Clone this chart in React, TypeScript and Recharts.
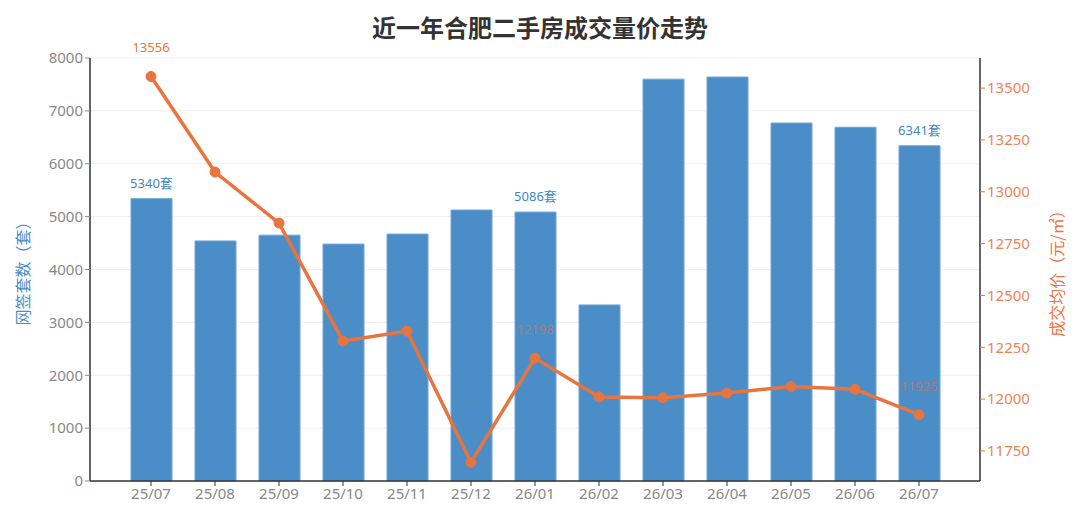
import React from 'react';
import { ComposedChart, Bar, Line, XAxis, YAxis, CartesianGrid, LabelList } from 'recharts';

const months = ['25/07', '25/08', '25/09', '25/10', '25/11', '25/12', '26/01', '26/02', '26/03', '26/04', '26/05', '26/06', '26/07'];
const volumes = [5340, 4540, 4650, 4480, 4670, 5125, 5086, 3330, 7600, 7640, 6770, 6690, 6341];
const prices = [13556, 13095, 12849, 12280, 12328, 11695, 12198, 12010, 12006, 12029, 12061, 12047, 11925];
const labeledIdx = [0, 6, 12];
const leftTicks = [0, 1000, 2000, 3000, 4000, 5000, 6000, 7000, 8000];
const rightTicks = [11750, 12000, 12250, 12500, 12750, 13000, 13250, 13500];

const data = months.map((m, i) => ({ month: m, volume: volumes[i], price: prices[i] }));

const FONT = '"Noto Sans CJK SC", "Noto Sans", sans-serif';
const NUM_FONT = '"Noto Sans", "Noto Sans CJK SC", sans-serif';
const BLUE = '#4a8dc7';
const ORANGE = '#e8743f';

const BarLabel = (props: any) => {
  const { x, y, width, value, index } = props;
  if (!labeledIdx.includes(index)) return null;
  return (
    <text x={Number(x) + Number(width) / 2} y={Number(y) - 16} textAnchor="middle" dominantBaseline="central" fill="#3f86c4" fontSize={13} fontFamily={NUM_FONT}>
      {value}套
    </text>
  );
};

const LineLabel = (props: any) => {
  const { x, y, value, index } = props;
  if (!labeledIdx.includes(index)) return null;
  return (
    <text x={x} y={Number(y) - 29} textAnchor="middle" dominantBaseline="central" fill={ORANGE} opacity={index === 0 ? 1 : 0.6} fontSize={13} fontFamily={NUM_FONT}>
      {value}
    </text>
  );
};

const LeftTitle = (props: any) => {
  const vb = props.viewBox || {};
  const cx = 22;
  const cy = Number(vb.y) + Number(vb.height) / 2;
  return (
    <text x={cx} y={cy} transform={`rotate(-90 ${cx} ${cy})`} textAnchor="middle" dominantBaseline="central" fill={BLUE} fontSize={16} fontFamily={FONT}>
      网签套数（套）
    </text>
  );
};

const RightTitle = (props: any) => {
  const vb = props.viewBox || {};
  const cx = 1056;
  const cy = Number(vb.y) + Number(vb.height) / 2;
  return (
    <text x={cx} y={cy} transform={`rotate(-90 ${cx} ${cy})`} textAnchor="middle" dominantBaseline="central" fill={ORANGE} fontSize={16} fontFamily={FONT}>
      成交均价（元/㎡）
    </text>
  );
};

export default function App() {
  return (
    <div style={{ position: 'fixed', left: 0, top: 0, width: 1080, height: 525, background: '#fff', fontFamily: FONT }}>
      <div style={{ position: 'absolute', left: 0, top: 11, width: 1080, textAlign: 'center', fontSize: 24, fontWeight: 700, color: '#333', lineHeight: '32px' }}>
        近一年合肥二手房成交量价走势
      </div>
      <ComposedChart width={1080} height={525} data={data} margin={{ top: 58, right: 0, bottom: 0, left: 0 }}>
        <CartesianGrid yAxisId="left" vertical={false} stroke="#eeeeee" />
        <XAxis
          dataKey="month"
          padding={{ left: 29, right: 29 }}
          height={44}
          tickLine={{ stroke: '#333' }}
          tickSize={5}
          axisLine={{ stroke: '#333', strokeWidth: 1.5 }}
          tick={{ fill: '#888', fontSize: 15, fontFamily: NUM_FONT }}
          interval={0}
        />
        <YAxis
          yAxisId="left"
          orientation="left"
          width={90}
          domain={[0, 8000]}
          ticks={leftTicks}
          tickSize={5}
          tickLine={{ stroke: '#888' }}
          axisLine={{ stroke: '#333', strokeWidth: 1.5 }}
          tick={{ fill: '#888', fontSize: 15, fontFamily: NUM_FONT }}
          label={<LeftTitle />}
        />
        <YAxis
          yAxisId="right"
          orientation="right"
          width={100}
          domain={[11605, 13645]}
          ticks={rightTicks}
          tickSize={5}
          tickLine={{ stroke: ORANGE }}
          axisLine={{ stroke: '#333', strokeWidth: 1.5 }}
          tick={{ fill: '#e8845a', fontSize: 15, fontFamily: NUM_FONT }}
          label={<RightTitle />}
          allowDataOverflow
        />
        <Bar yAxisId="left" dataKey="volume" barSize={41} fill={BLUE} stroke="#6fa6d8" strokeWidth={1} isAnimationActive={false}>
          <LabelList dataKey="volume" content={<BarLabel />} />
        </Bar>
        <Line
          yAxisId="right"
          dataKey="price"
          stroke={ORANGE}
          strokeWidth={3.5}
          dot={{ r: 5, fill: ORANGE, stroke: ORANGE, strokeWidth: 1 }}
          activeDot={false}
          isAnimationActive={false}
        >
          <LabelList dataKey="price" content={<LineLabel />} />
        </Line>
      </ComposedChart>
    </div>
  );
}
